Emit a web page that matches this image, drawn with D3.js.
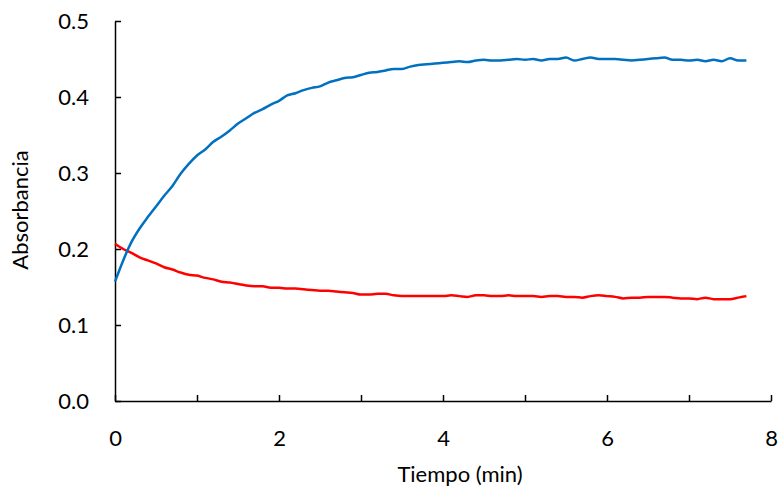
<!DOCTYPE html>
<html>
<head>
<meta charset="utf-8">
<script src="https://cdn.jsdelivr.net/npm/d3@7"></script>
<style>
  html, body { margin: 0; padding: 0; background: #fff; }
  svg text { font-family: Lato, "Open Sans", sans-serif; fill: #000; }
</style>
</head>
<body>
<svg id="chart" width="782" height="490"></svg>
<script>
const timeStep = 0.1; // minutes between readings
const blueSeries = [0.157,0.185,0.209,0.227,0.242,0.256,0.270,0.283,0.299,0.312,
  0.323,0.331,0.341,0.348,0.356,0.365,0.372,0.379,0.384,0.390,
  0.395,0.402,0.405,0.409,0.412,0.414,0.419,0.422,0.425,0.426,
  0.429,0.432,0.433,0.435,0.437,0.437,0.440,0.442,0.443,0.444,
  0.445,0.446,0.447,0.446,0.448,0.449,0.448,0.448,0.449,0.450,
  0.449,0.450,0.448,0.450,0.450,0.452,0.448,0.450,0.452,0.450,
  0.450,0.450,0.449,0.448,0.449,0.450,0.451,0.452,0.449,0.449,
  0.448,0.449,0.447,0.449,0.447,0.451,0.448,0.448];
const redSeries = [0.207,0.200,0.195,0.189,0.185,0.181,0.176,0.173,0.169,0.166,
  0.165,0.162,0.160,0.157,0.156,0.154,0.152,0.151,0.151,0.149,
  0.149,0.148,0.148,0.147,0.146,0.145,0.145,0.144,0.143,0.142,
  0.140,0.140,0.141,0.141,0.139,0.138,0.138,0.138,0.138,0.138,
  0.138,0.139,0.138,0.137,0.139,0.139,0.138,0.138,0.139,0.138,
  0.138,0.138,0.137,0.138,0.138,0.137,0.137,0.136,0.138,0.139,
  0.138,0.137,0.135,0.136,0.136,0.137,0.137,0.137,0.136,0.135,
  0.135,0.134,0.136,0.134,0.134,0.134,0.136,0.138];
const xTicks = [0,1,2,3,4,5,6,7,8];
const xTickLabels = ["0","","2","","4","","6","","8"];
const yTicks = [0,0.1,0.2,0.3,0.4,0.5];
const yTickLabels = ["0.0","0.1","0.2","0.3","0.4","0.5"];
const xTitle = "Tiempo (min)";
const yTitle = "Absorbancia";

(function () {
const svg = d3.select("#chart");
const mLeft = 115, mRight = 771, mTop = 21, mBottom = 401;
const fs = 22;
const x = d3.scaleLinear().domain([0, 8]).range([mLeft, mRight]);
const y = d3.scaleLinear().domain([0, 0.5]).range([mBottom, mTop]);

const xAxis = d3.axisBottom(x).tickValues(xTicks).tickSize(-6).tickSizeOuter(0)
  .tickFormat((d, i) => xTickLabels[i]);
const gx = svg.append("g").attr("transform", `translate(0,${mBottom})`).call(xAxis);
gx.select(".domain").attr("stroke", "#000").attr("stroke-width", 1.5);
gx.selectAll(".tick line").attr("stroke", "#000").attr("stroke-width", 1.5);
gx.selectAll(".tick text").attr("font-size", fs).attr("y", 45).attr("dy", 0);

const yAxis = d3.axisLeft(y).tickValues(yTicks).tickSize(-6).tickSizeOuter(0)
  .tickFormat((d, i) => yTickLabels[i]);
const gy = svg.append("g").attr("transform", `translate(${mLeft},0)`).call(yAxis);
gy.select(".domain").attr("stroke", "#000").attr("stroke-width", 1.5);
gy.selectAll(".tick line").attr("stroke", "#000").attr("stroke-width", 1.5);
gy.selectAll(".tick text").attr("font-size", fs).attr("x", -26);

svg.append("text").attr("x", 460).attr("y", 482)
  .attr("text-anchor", "middle").attr("font-size", fs).text(xTitle);
svg.append("text").attr("transform", `translate(28,210) rotate(-90)`)
  .attr("text-anchor", "middle").attr("font-size", fs).text(yTitle);

const line = d3.line().x((d, i) => x(i * timeStep)).y(d => y(d)).curve(d3.curveMonotoneX);
svg.append("path").datum(redSeries).attr("d", line)
  .attr("fill", "none").attr("stroke", "#FF0000").attr("stroke-width", 2.5);
svg.append("path").datum(blueSeries).attr("d", line)
  .attr("fill", "none").attr("stroke", "#0070C0").attr("stroke-width", 2.5);
})();
</script>
</body>
</html>
